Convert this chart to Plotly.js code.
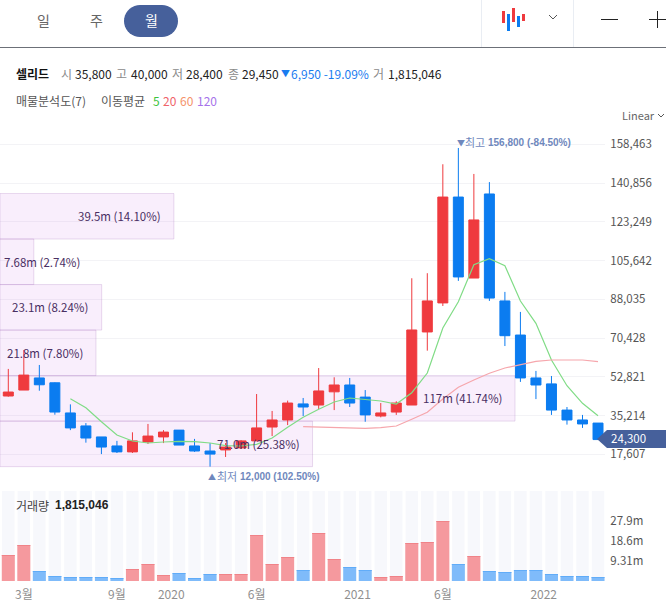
<!DOCTYPE html>
<html><head><meta charset="utf-8">
<script src="https://cdn.plot.ly/plotly-3.0.1.min.js"></script>
<style>html,body{margin:0;padding:0;background:#fff;overflow:hidden}#c{width:666px;height:608px}</style>
</head><body><div id="c"></div>
<script>
const idx = Array.from({length:39},(_,i)=>i);
const open_  = [44100,46800,52300,50100,36400,30500,25500,21400,18700,23200,25500,28600,21400,19100,19600,20500,23700,30000,33200,40500,40000,46000,49100,43600,35000,36800,40000,73200,86400,134500,97700,135900,87300,71800,52300,49600,37700,33200,31800];
const high_  = [56400,65000,58200,50300,40300,31800,25500,23700,27600,31400,28600,28600,24600,22700,22700,24100,45000,37300,42000,43200,56800,52600,52300,46800,40900,41700,97600,99900,149400,156800,145000,141300,91400,82300,55500,53200,39100,35500,31800];
const low_   = [43800,46800,46500,35600,28600,22900,17700,18200,18200,22300,22700,21800,18700,12000,16400,20000,23700,25900,30900,35000,38200,37700,39100,32400,34400,35500,40000,64700,85000,96400,97700,87300,66800,50500,42700,35500,31100,29600,24300];
const close_ = [45900,53600,49200,36800,29600,25000,20900,18700,23700,25900,27700,21800,19100,17700,20900,23700,29600,33200,40900,39100,46400,49100,40900,35500,36400,40900,74100,87300,134500,98200,124100,88600,71500,52300,49100,37700,33200,31400,24300];
const ma5  = [null,null,null,null,42871,38782,32420,26377,23650,22741,23196,23514,23332,22741,21515,21378,22151,25013,29875,34419,38055,41372,43189,42417,41826,40463,45598,54549,74997,86948,103761,106487,103307,87266,77133,60457,48779,40781,35147];
const ma20 = [null,null,null,null,null,null,null,null,null,null,null,null,null,null,null,null,null,null,null,30148,30012,30012,29557,29421,29694,30466,33511,36691,42735,48051,51369,54413,56821,58503,59866,60457,60593,60457,59684];
const volume = [12.1,16.76,4.66,2.33,1.86,1.86,1.86,1.4,5.59,7.92,2.79,3.72,1.4,3.26,3.26,3.26,21.42,7.92,11.17,5.12,22.35,10.24,6.52,5.12,1.86,2.33,17.69,18.16,27.94,7.92,11.64,4.66,4.19,5.12,5.12,3.26,2.33,2.33,1.815];
const volumeTrack = idx.map(()=>41.9);
const profileCenters = [22343,43029,63714,84400,105086,125771];
const profileValues  = [71.0,117,21.8,23.1,7.68,39.5];
const profileLabels  = ['71.0m (25.38%)','117m (41.74%)','21.8m (7.80%)','23.1m (8.24%)','7.68m (2.74%)','39.5m (14.10%)'];
const profileShift   = [-11,-11,-11,-12,48,-11];
const priceTicks = [158463,140856,123249,105642,88035,70428,52821,35214,17607];
const volTicks = [27.9,18.6,9.31];
const volTickText = ['27.9m','18.6m','9.31m'];
const timeTicks = [1,7,10.5,16,22.5,28,34.5];
const timeLabels = ['3월','9월','2020','6월','2021','6월','2022'];

const F = '"Noto Sans CJK KR","Noto Sans",sans-serif';
const LF = '"Liberation Sans",sans-serif';
const W=666,H=608, RED='#ef3a3e', BLUE='#0b7cf0';
const px=x=>x/W, py=y=>1-y/H;
const rng=[-0.535,38.45];
const up = idx.map(i=>close_[i]>=open_[i]);

const traces=[
 {type:'bar',orientation:'h',x:profileValues,y:profileCenters,width:20686,xaxis:'x',yaxis:'y',
  marker:{color:'rgba(206,120,235,0.13)',line:{color:'rgba(170,120,190,0.25)',width:1}},hoverinfo:'skip'},
 {type:'candlestick',x:idx,open:open_,high:high_,low:low_,close:close_,xaxis:'x2',yaxis:'y',whiskerwidth:0,
  increasing:{line:{color:RED,width:1},fillcolor:RED},decreasing:{line:{color:BLUE,width:1},fillcolor:BLUE},hoverinfo:'skip'},
 {type:'scatter',mode:'lines',x:idx,y:ma5,xaxis:'x2',yaxis:'y',line:{color:'#80dc86',width:1.2},hoverinfo:'skip'},
 {type:'scatter',mode:'lines',x:idx,y:ma20,xaxis:'x2',yaxis:'y',line:{color:'#f6a6ac',width:1.2},hoverinfo:'skip'},
 {type:'bar',x:idx,y:volumeTrack,width:0.8,xaxis:'x3',yaxis:'y2',marker:{color:'#f7f8fc'},hoverinfo:'skip'},
 {type:'bar',x:idx,y:volume,width:0.84,xaxis:'x3',yaxis:'y2',marker:{color:up.map(u=>u?'#f5999e':'#7fbbfa')},hoverinfo:'skip'},
 {type:'bar',x:idx,y:volume.map(()=>0.4),base:volume.map(v=>v-0.4),width:0.84,xaxis:'x3',yaxis:'y2',marker:{color:up.map(u=>u?'#ef7f85':'#5ca9f7')},hoverinfo:'skip'}
];

function T(x,y,text,o={}){return {xref:'paper',yref:'paper',x:px(x),y:py(y),text,showarrow:false,xanchor:o.anchor||'left',yanchor:'middle',borderpad:0,
  font:{family:o.family||F,size:o.size||12,color:o.color||'#222'}};}
const GR='#8a8a8a', DK='#222222', BL='#1a7cf0', LB='#6f88bd';
const annotations=[
 T(43,20,'일',{anchor:'center',size:14,color:'#666'}),
 T(96,20,'주',{anchor:'center',size:14,color:'#666'}),
 T(151,20,'월',{anchor:'center',size:14,color:'#fff'}),
 T(15,73.5,'<b>셀리드</b>',{color:'#111'}),
 T(60,73.5,'시',{color:GR}),T(74,73.5,'35,800',{color:DK}),
 T(115,73.5,'고',{color:GR}),T(130,73.5,'40,000',{color:DK}),
 T(171,73.5,'저',{color:GR}),T(185,73.5,'28,400',{color:DK}),
 T(227,73.5,'종',{color:GR}),T(241,73.5,'29,450',{color:DK}),
 T(280,73.5,'▼',{size:9,color:BL}),T(290,73.5,'6,950 -19.09%',{color:BL}),
 T(372,73.5,'거',{color:GR}),T(387,73.5,'1,815,046',{color:DK}),
 T(15,100.5,'매물분석도(7)',{color:'#555'}),T(100,100.5,'이동평균',{color:'#555'}),
 T(152,100.5,'5',{color:'#3cc43c'}),T(162,100.5,'20',{color:'#f0636a'}),T(179,100.5,'60',{color:'#f5936a'}),T(196,100.5,'120',{color:'#a673ea'}),
 T(621,115,'Linear',{size:11,color:'#666'}),
 T(456,142,'▼',{size:8,color:LB}),T(464,142,'최고',{size:11,color:LB}),T(487,142,'<b>156,800 (-84.50%)</b>',{size:10,family:LF,color:LB}),
 T(207,476,'▲',{size:8,color:LB}),T(216,476,'최저',{size:11,color:LB}),T(239,476,'<b>12,000 (102.50%)</b>',{size:10,family:LF,color:LB}),
 T(15,505,'거래량',{color:'#444'}),T(54,505,'<b>1,815,046</b>',{family:LF,color:'#222'}),
 T(610,438,'24,300',{size:11.5,color:'#fff'})
];
profileCenters.forEach((c,i)=>annotations.push({xref:'x',yref:'y',x:profileValues[i],y:c,text:profileLabels[i],showarrow:false,xanchor:'right',yanchor:'middle',xshift:profileShift[i],font:{family:F,size:11.5,color:'#4a2f63'}}));

function L(x0,y0,x1,y1,c,w=1){return {type:'line',xref:'paper',yref:'paper',x0:px(x0),y0:py(y0),x1:px(x1),y1:py(y1),line:{color:c,width:w}};}
function R(x0,y0,x1,y1,c){return {type:'rect',xref:'paper',yref:'paper',x0:px(x0),y0:py(y0),x1:px(x1),y1:py(y1),fillcolor:c,line:{width:0}};}
function P(pts,c,fill){const d=pts.map((p,i)=>(i?'L':'M')+px(p[0])+','+py(p[1])).join(' ');
 return {type:'path',xref:'paper',yref:'paper',path:d+(fill?' Z':''),fillcolor:fill?c:undefined,line:fill?{width:0}:{color:c,width:1}};}
function pill(x0,y0,x1,y1,c){const r=(y1-y0)/2,n=[];for(let a=-90;a<=90;a+=10){const t=a*Math.PI/180;n.push([x1-r+r*Math.cos(t),(y0+y1)/2+r*Math.sin(t)]);}
 for(let a=90;a<=270;a+=10){const t=a*Math.PI/180;n.push([x0+r+r*Math.cos(t),(y0+y1)/2+r*Math.sin(t)]);}return P(n,c,true);}
const shapes=[
 pill(124,5,178,37,'#46609b'),
 L(0,47.5,666,47.5,'#6c7078'),
 L(481.5,0,481.5,47,'#e9edf3'),L(573.5,0,573.5,47,'#e9edf3'),
 R(502,11,505,23,RED),R(507,14,510,31,BLUE),R(512,8,515,22,RED),R(517,16,520,27,BLUE),R(522,14,525,21,RED),
 P([[549,15],[553,19],[557,15]],'#555',false),
 L(601,19.5,618,19.5,'#222'),L(649,19.5,666,19.5,'#222'),L(657.5,11,657.5,28,'#222'),
 P([[658,114],[661,117],[664,114]],'#555',false),
 P([[597,439],[607,430],[666,430],[666,448],[607,448]],'#46609b',true)
];
const dom=[0,605/W];
const layout={width:W,height:H,autosize:false,margin:{l:0,r:0,t:0,b:0},paper_bgcolor:'#fff',plot_bgcolor:'rgba(0,0,0,0)',
 showlegend:false,barmode:'overlay',boxmode:'overlay',boxgap:0.356,boxgroupgap:0,hovermode:false,
 xaxis:{domain:dom,range:[0,117*605/515],visible:false,anchor:'y',fixedrange:true},
 xaxis2:{domain:dom,range:rng,visible:false,overlaying:'x',anchor:'y',rangeslider:{visible:false},fixedrange:true},
 xaxis3:{domain:dom,range:rng,anchor:'y2',tickmode:'array',tickvals:timeTicks,ticktext:timeLabels,showgrid:false,zeroline:false,showline:false,
   ticks:'outside',ticklen:3,tickcolor:'rgba(0,0,0,0)',tickfont:{family:F,size:12,color:'#909090'},tickangle:0,fixedrange:true},
 yaxis:{domain:[1-480/H,1-130/H],range:[5929,164969],side:'right',anchor:'x',tickmode:'array',tickvals:priceTicks,ticktext:priceTicks.map(v=>v.toLocaleString('en-US')),
   showgrid:true,gridcolor:'#f3f3f6',gridwidth:1,zeroline:false,showline:false,ticks:'outside',ticklen:2,tickcolor:'rgba(0,0,0,0)',tickfont:{family:F,size:11.5,color:'#555'},fixedrange:true},
 yaxis2:{domain:[1-581/H,1-491/H],range:[0,41.9],side:'right',anchor:'x3',tickmode:'array',tickvals:volTicks,ticktext:volTickText,
   showgrid:false,zeroline:false,showline:false,ticks:'outside',ticklen:2,tickcolor:'rgba(0,0,0,0)',tickfont:{family:F,size:11.5,color:'#555'},fixedrange:true},
 annotations,shapes
};
Plotly.newPlot('c',traces,layout,{displayModeBar:false,staticPlot:true});
</script></body></html>
